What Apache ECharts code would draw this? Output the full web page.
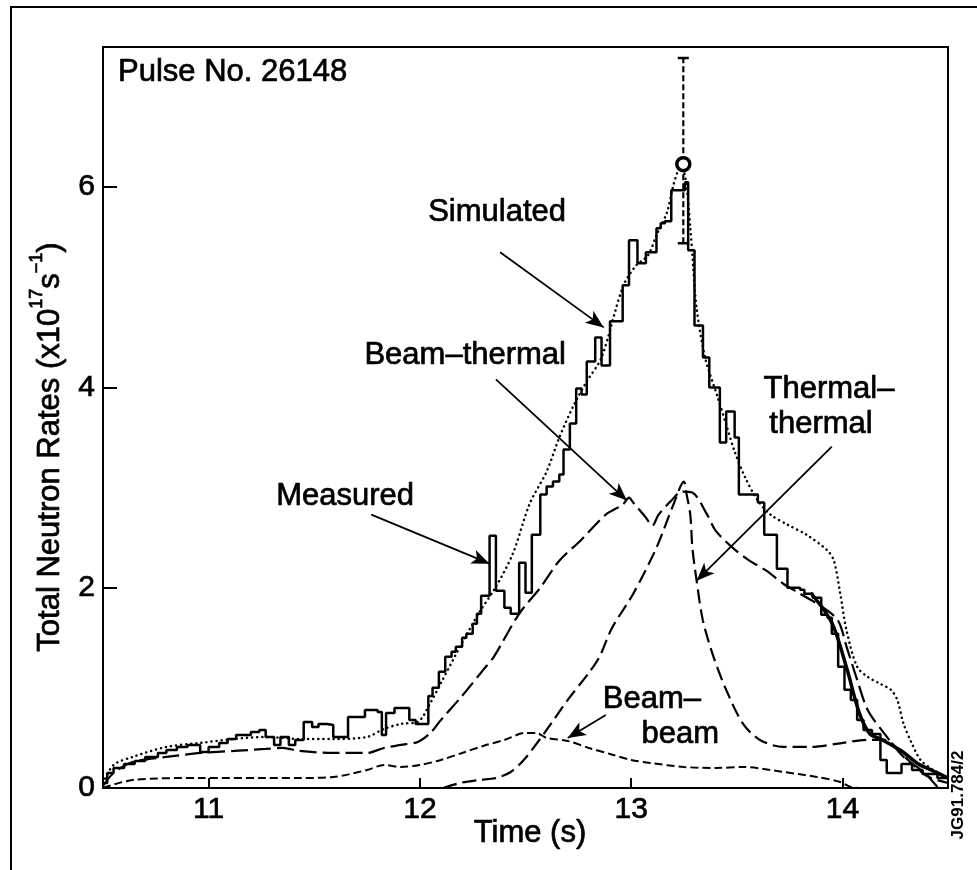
<!DOCTYPE html>
<html>
<head>
<meta charset="utf-8">
<script src="https://cdn.jsdelivr.net/npm/echarts@6/dist/echarts.min.js"></script>
<style>
html, body { margin: 0; padding: 0; background: #fff; }
#chart { width: 977px; height: 870px; }
</style>
</head>
<body>
<div id="chart"></div>
<script>
'use strict';
var xTicks = [11, 12, 13, 14];
var yTicks = [0, 2, 4, 6];

// measured: left edge of each bin and its value (drawn as steps)
var measuredT = [10.50, 10.52, 10.55, 10.60, 10.65, 10.70, 10.76, 10.80, 10.85, 10.90, 10.96, 11.00, 11.05, 11.09, 11.13, 11.20, 11.24, 11.27, 11.31, 11.34, 11.38, 11.41, 11.45, 11.49, 11.52, 11.56, 11.59, 11.66, 11.74, 11.80, 11.82, 11.84, 11.88, 11.95, 11.98, 12.04, 12.06, 12.09, 12.12, 12.15, 12.17, 12.20, 12.22, 12.25, 12.27, 12.29, 12.33, 12.36, 12.40, 12.43, 12.47, 12.50, 12.53, 12.57, 12.60, 12.63, 12.66, 12.68, 12.71, 12.74, 12.765, 12.79, 12.83, 12.86, 12.90, 12.96, 12.99, 13.03, 13.07, 13.12, 13.14, 13.16, 13.19, 13.23, 13.255, 13.27, 13.30, 13.34, 13.37, 13.42, 13.45, 13.49, 13.51, 13.60, 13.63, 13.69, 13.74, 13.80, 13.82, 13.86, 13.90, 13.93, 13.95, 13.98, 14.01, 14.04, 14.07, 14.10, 14.14, 14.18, 14.21, 14.28, 14.33, 14.38, 14.45, 14.50];
var measuredV = [0.05, 0.15, 0.20, 0.24, 0.27, 0.31, 0.35, 0.38, 0.41, 0.43, 0.36, 0.41, 0.45, 0.49, 0.53, 0.56, 0.58, 0.51, 0.43, 0.51, 0.43, 0.48, 0.66, 0.61, 0.64, 0.63, 0.51, 0.71, 0.78, 0.76, 0.53, 0.75, 0.80, 0.68, 0.64, 0.92, 1.00, 1.16, 1.31, 1.36, 1.41, 1.50, 1.54, 1.64, 1.74, 1.92, 2.52, 1.97, 1.80, 1.74, 2.25, 1.95, 2.53, 2.93, 3.01, 3.06, 3.13, 3.38, 3.64, 3.99, 3.93, 4.26, 4.50, 4.22, 4.66, 5.02, 5.47, 5.24, 5.35, 5.59, 5.64, 5.66, 5.97, 5.97, 6.05, 5.37, 4.62, 4.30, 4.00, 3.45, 3.76, 3.50, 2.93, 2.85, 2.53, 2.19, 2.00, 1.98, 1.94, 1.90, 1.73, 1.70, 1.54, 1.21, 0.98, 0.88, 0.68, 0.58, 0.54, 0.28, 0.15, 0.24, 0.18, 0.14, 0.10, 0.10];

// heavy measured trace in the tail
var tailT = [13.85, 13.95, 14.02, 14.08, 14.13, 14.18, 14.28, 14.36, 14.42, 14.50];
var tailV = [1.95, 1.65, 1.20, 0.75, 0.54, 0.49, 0.37, 0.24, 0.18, 0.10];

var simT = [10.50, 10.55, 10.64, 10.80, 10.96, 11.12, 11.27, 11.43, 11.59, 11.75, 11.83, 11.91, 11.99, 12.05, 12.10, 12.20, 12.28, 12.36, 12.44, 12.52, 12.60, 12.66, 12.73, 12.79, 12.86, 12.96, 13.02, 13.08, 13.12, 13.17, 13.20, 13.22, 13.24, 13.26, 13.28, 13.29, 13.31, 13.35, 13.41, 13.45, 13.49, 13.54, 13.60, 13.66, 13.74, 13.83, 13.93, 13.96, 13.99, 14.02, 14.07, 14.12, 14.18, 14.23, 14.26, 14.29, 14.33, 14.37, 14.43, 14.50];
var simV = [0.05, 0.23, 0.31, 0.41, 0.45, 0.49, 0.51, 0.49, 0.49, 0.51, 0.59, 0.64, 0.66, 0.85, 1.05, 1.45, 1.75, 2.01, 2.34, 2.84, 3.16, 3.50, 3.83, 4.06, 4.30, 5.00, 5.21, 5.32, 5.52, 5.75, 6.02, 6.15, 6.20, 6.05, 5.60, 5.32, 4.79, 4.30, 3.90, 3.63, 3.36, 3.10, 2.87, 2.73, 2.63, 2.53, 2.37, 2.27, 1.94, 1.57, 1.21, 1.11, 1.04, 0.98, 0.88, 0.64, 0.44, 0.28, 0.18, 0.10];

var btT = [10.50, 10.55, 10.64, 10.80, 10.96, 11.12, 11.27, 11.35, 11.43, 11.59, 11.75, 11.83, 11.91, 11.99, 12.05, 12.10, 12.20, 12.30, 12.35, 12.47, 12.57, 12.66, 12.76, 12.88, 12.96, 12.99, 13.01, 13.07, 13.10, 13.13, 13.19, 13.24, 13.29, 13.36, 13.40, 13.48, 13.56, 13.64, 13.72, 13.80, 13.91, 13.98, 14.02, 14.07, 14.12, 14.20, 14.29, 14.39, 14.45];
var btV = [0.02, 0.15, 0.26, 0.31, 0.35, 0.37, 0.39, 0.40, 0.37, 0.35, 0.35, 0.40, 0.43, 0.46, 0.55, 0.68, 0.92, 1.18, 1.31, 1.74, 2.00, 2.27, 2.47, 2.73, 2.83, 2.90, 2.85, 2.70, 2.62, 2.73, 2.87, 2.96, 2.95, 2.73, 2.57, 2.40, 2.27, 2.17, 2.04, 1.94, 1.80, 1.67, 1.41, 1.08, 0.78, 0.54, 0.31, 0.15, 0.01];

var ttT = [12.11, 12.19, 12.28, 12.36, 12.43, 12.50, 12.60, 12.70, 12.80, 12.85, 12.91, 13.01, 13.12, 13.20, 13.25, 13.26, 13.28, 13.29, 13.31, 13.34, 13.39, 13.45, 13.53, 13.61, 13.72, 13.85, 13.97, 14.12, 14.20, 14.30, 14.40, 14.50];
var ttV = [0.00, 0.05, 0.08, 0.10, 0.16, 0.30, 0.58, 0.88, 1.15, 1.31, 1.60, 1.94, 2.40, 2.83, 3.06, 2.96, 2.73, 2.40, 2.07, 1.67, 1.31, 0.98, 0.64, 0.48, 0.41, 0.41, 0.44, 0.48, 0.48, 0.30, 0.12, 0.05];

var bbT = [10.50, 10.64, 10.96, 11.27, 11.43, 11.59, 11.75, 11.83, 11.91, 12.00, 12.10, 12.20, 12.30, 12.40, 12.50, 12.55, 12.60, 12.70, 12.80, 12.90, 13.00, 13.09, 13.25, 13.40, 13.53, 13.72, 13.88, 13.99, 14.04, 14.10];
var bbV = [0.00, 0.08, 0.10, 0.10, 0.10, 0.11, 0.18, 0.23, 0.21, 0.23, 0.28, 0.35, 0.42, 0.48, 0.55, 0.55, 0.50, 0.47, 0.40, 0.34, 0.28, 0.25, 0.21, 0.20, 0.21, 0.16, 0.11, 0.06, 0.01, 0.00];

// peak point with its error bar
var peakT = 13.247;
var peakV = 6.23;
var errLow = 5.44;
var errHigh = 7.29;

function pairs(t, v) {
	return t.map(function(x, i) { return [x, v[i]]; });
}

function arrow(from, to) {
	return [{ coord: from }, { coord: to }];
}

var font = 'Liberation Sans, Arial, sans-serif';

// scanned lettering is heavy, so the text gets a thin outline
function label(text, x, y, align) {
	return {
		type: 'text', x: x, y: y, silent: true,
		style: { text: text, font: '31px ' + font, fill: '#000', stroke: '#000', lineWidth: 0.7, textAlign: align, textVerticalAlign: 'middle' }
	};
}

var myChart = echarts.init(document.getElementById('chart'));

var option = {
	animation: false,
	backgroundColor: '#fff',
	grid: { left: 103, right: 29, top: 47, bottom: 82, show: true, borderColor: '#000', borderWidth: 2 },
	xAxis: {
		type: 'value', min: 10.5, max: 14.5,
		axisLine: { show: true, lineStyle: { color: '#000', width: 2 } },
		axisTick: { show: true, inside: true, length: 10, lineStyle: { color: '#000', width: 2 }, customValues: xTicks },
		axisLabel: { color: '#000', fontSize: 30, fontFamily: font, margin: 7, textBorderColor: '#000', textBorderWidth: 0.7, customValues: xTicks },
		splitLine: { show: false }
	},
	yAxis: {
		type: 'value', min: 0, max: 7.4,
		axisLine: { show: true, lineStyle: { color: '#000', width: 2 } },
		axisTick: { show: true, inside: true, length: 14, lineStyle: { color: '#000', width: 2 }, customValues: yTicks },
		axisLabel: { color: '#000', fontSize: 30, fontFamily: font, margin: 8, textBorderColor: '#000', textBorderWidth: 0.7, customValues: yTicks },
		splitLine: { show: false }
	},
	series: [
		{
			name: 'Simulated', type: 'line', data: pairs(simT, simV), showSymbol: false, smooth: 0.3,
			lineStyle: { color: '#000', width: 2.5, type: [0.1, 5], cap: 'round' }
		},
		{
			name: 'Beam-thermal', type: 'line', data: pairs(btT, btV), showSymbol: false, smooth: 0.3,
			lineStyle: { color: '#000', width: 2.2, type: [17, 6] }
		},
		{
			name: 'Thermal-thermal', type: 'line', data: pairs(ttT, ttV), showSymbol: false, smooth: 0.3,
			lineStyle: { color: '#000', width: 2.2, type: [14, 6] }
		},
		{
			name: 'Beam-beam', type: 'line', data: pairs(bbT, bbV), showSymbol: false, smooth: 0.3,
			lineStyle: { color: '#000', width: 2, type: [8, 4] }
		},
		{
			name: 'Measured tail', type: 'line', data: pairs(tailT, tailV), showSymbol: false, smooth: 0.3,
			lineStyle: { color: '#000', width: 3.5 }
		},
		{
			name: 'Measured', type: 'line', step: 'end', data: pairs(measuredT, measuredV), showSymbol: false,
			lineStyle: { color: '#000', width: 2.5 },
			markLine: {
				silent: true, symbol: ['none', 'arrow'], symbolSize: [11, 18],
				label: { show: false },
				lineStyle: { color: '#000', width: 1.8, type: 'solid' },
				data: [
					arrow([12.38, 5.35], [12.87, 4.60]),
					arrow([12.36, 4.08], [12.98, 2.87]),
					arrow([11.77, 2.73], [12.33, 2.24]),
					arrow([13.95, 3.41], [13.31, 2.07]),
					arrow([12.88, 0.73], [12.70, 0.50])
				]
			}
		},
		{
			name: 'Error bar', type: 'line', data: [[peakT, errLow], [peakT, errHigh]], showSymbol: false,
			lineStyle: { color: '#000', width: 2.2, type: [6, 3] }
		},
		{
			name: 'Caps', type: 'scatter', data: [[peakT, errLow], [peakT, errHigh]],
			symbol: 'rect', symbolSize: [11, 2.5], itemStyle: { color: '#000', opacity: 1 }
		},
		{
			name: 'Peak', type: 'scatter', data: [[peakT, peakV]], z: 5,
			symbol: 'circle', symbolSize: 13, itemStyle: { color: '#fff', borderColor: '#000', borderWidth: 3.5, opacity: 1 }
		}
	],
	graphic: [
		{ type: 'rect', shape: { x: 11, y: 7, width: 1000, height: 1000 }, style: { fill: 'none', stroke: '#000', lineWidth: 2 }, silent: true },
		label('Pulse No. 26148', 118, 72, 'left'),
		label('Simulated', 566, 212, 'right'),
		label('Beam\u2013thermal', 566, 355, 'right'),
		label('Measured', 414, 496, 'right'),
		label('Thermal\u2013', 829, 389, 'center'),
		label('thermal', 821, 424, 'center'),
		label('Beam\u2013', 701, 699, 'right'),
		label('beam', 719, 734, 'right'),
		label('Time (s)', 530, 833, 'center'),
		{
			type: 'text', x: 47, y: 447, rotation: Math.PI / 2, silent: true,
			style: {
				text: '{a|Total Neutron Rates (x10}{s|17}{a|s}{s|\u22121}{a|)}',
				fill: '#000', stroke: '#000', lineWidth: 0.7, textAlign: 'center', textVerticalAlign: 'middle',
				rich: {
					a: { fontSize: 31, fontFamily: font, lineHeight: 38, verticalAlign: 'bottom' },
					s: { fontSize: 18, fontFamily: font, lineHeight: 38, verticalAlign: 'top' }
				}
			}
		},
		{ type: 'text', x: 958, y: 795, rotation: Math.PI / 2, silent: true, style: { text: 'JG91.784/2', font: 'bold 17px Liberation Sans Narrow, ' + font, fill: '#000', textAlign: 'center', textVerticalAlign: 'middle' } }
	]
};

myChart.setOption(option);
</script>
</body>
</html>
